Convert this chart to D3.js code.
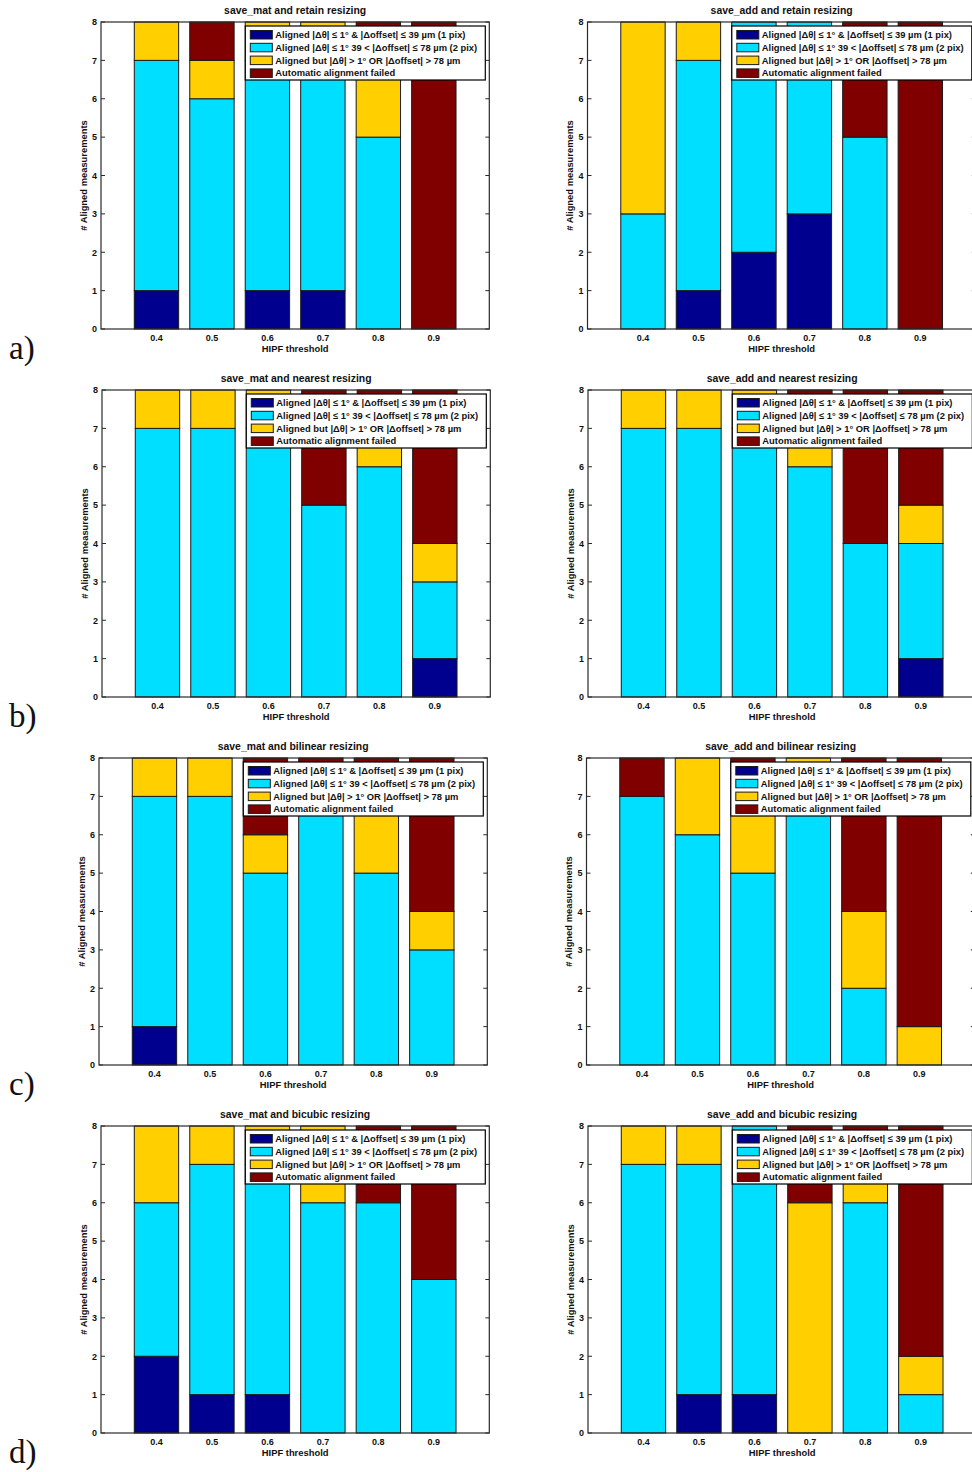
<!DOCTYPE html>
<html>
<head>
<meta charset="utf-8">
<script src="https://cdnjs.cloudflare.com/ajax/libs/d3/7.8.5/d3.min.js"></script>
<style>
  html, body { margin: 0; padding: 0; background: #fff; }
  svg { display: block; }
  .tick-label, .axis-title, .panel-title, .legend-text { font-family: "Liberation Sans", Arial, Helvetica, sans-serif; font-weight: bold; fill: #111; }
  .row-label { font-family: "Liberation Serif", "DejaVu Serif", serif; fill: #111; }
</style>
</head>
<body>
<svg id="chart" width="972" height="1472"></svg>
<script>
// HIPF thresholds on the x axis
const thresholds = ["0.4", "0.5", "0.6", "0.7", "0.8", "0.9"];

// Outcome classes, bottom to top of each stack
const seriesKeys = ["pix1", "pix2", "coarse", "failed"];
const seriesLabels = [
  "Aligned |\u0394\u03b8| \u2264 1\u00b0 & |\u0394offset| \u2264 39 \u00b5m (1 pix)",
  "Aligned |\u0394\u03b8| \u2264 1\u00b0 39 < |\u0394offset| \u2264 78 \u00b5m (2 pix)",
  "Aligned but |\u0394\u03b8| > 1\u00b0 OR |\u0394offset| > 78 \u00b5m",
  "Automatic alignment failed"
];
const seriesColors = ["#00008f", "#00dfff", "#ffcf00", "#800000"];

// Counts per threshold: [1 pix, 2 pix, aligned but off, failed]
const matRetain   = [[1,0,1,1,0,0],[6,6,6,6,5,0],[1,1,1,1,2,0],[0,1,0,0,1,8]];
const addRetain   = [[0,1,2,3,0,0],[3,6,6,5,5,0],[5,1,0,0,0,0],[0,0,0,0,3,8]];
const matNearest  = [[0,0,0,0,0,1],[7,7,7,5,6,2],[1,1,1,0,1,1],[0,0,0,3,1,4]];
const addNearest  = [[0,0,0,0,0,1],[7,7,7,6,4,3],[1,1,1,1,0,1],[0,0,0,1,4,3]];
const matBilinear = [[1,0,0,0,0,0],[6,7,5,7,5,3],[1,1,1,0,2,1],[0,0,2,1,1,4]];
const addBilinear = [[0,0,0,0,0,0],[7,6,5,7,2,0],[0,2,2,1,2,1],[1,0,1,0,4,7]];
const matBicubic  = [[2,1,1,0,0,0],[4,6,6,6,6,4],[2,1,1,2,0,0],[0,0,0,0,2,4]];
const addBicubic  = [[0,1,1,0,0,0],[7,6,7,0,6,1],[1,1,0,6,1,1],[0,0,0,2,1,6]];

const yTicks = [0, 1, 2, 3, 4, 5, 6, 7, 8];
const rowLabels = ["a)", "b)", "c)", "d)"];

// Panel grid: rows of resizing methods, columns of save modes
const panels = [
  { title: "save_mat and retain resizing",   data: matRetain,   row: 0, col: 0 },
  { title: "save_add and retain resizing",   data: addRetain,   row: 0, col: 1 },
  { title: "save_mat and nearest resizing",  data: matNearest,  row: 1, col: 0 },
  { title: "save_add and nearest resizing",  data: addNearest,  row: 1, col: 1 },
  { title: "save_mat and bilinear resizing", data: matBilinear, row: 2, col: 0 },
  { title: "save_add and bilinear resizing", data: addBilinear, row: 2, col: 1 },
  { title: "save_mat and bicubic resizing",  data: matBicubic,  row: 3, col: 0 },
  { title: "save_add and bicubic resizing",  data: addBicubic,  row: 3, col: 1 }
];

const svg = d3.select("#chart");
const colLeft = [101, 587.5];
const rowShift = [[0, 0], [1, 0.5], [-2, -1], [0, 0.5]];
const plotW = 388.3, plotH = 307;
const rowTop = r => 22 + r * 368;

function drawPanel(p) {
  const left = colLeft[p.col] + rowShift[p.row][p.col];
  const top = rowTop(p.row);
  const bottom = top + plotH;
  const x = d3.scaleLinear().domain([0, 7]).range([left, left + plotW]);
  const y = d3.scaleLinear().domain([0, 8]).range([bottom, top]);

  const rows = thresholds.map((t, i) => {
    const o = { t, i };
    seriesKeys.forEach((k, s) => { o[k] = p.data[s][i]; });
    return o;
  });
  const stacked = d3.stack().keys(seriesKeys)(rows);

  const g = svg.append("g");
  g.append("rect").attr("x", left).attr("y", top).attr("width", plotW).attr("height", plotH).attr("fill", "#fff");

  const barW = 0.8;
  stacked.forEach((layer, s) => {
    g.selectAll(null)
      .data(layer.filter(d => d[1] - d[0] > 0))
      .enter().append("rect")
      .attr("x", d => x(d.data.i + 1 - barW / 2))
      .attr("width", x(barW) - x(0))
      .attr("y", d => y(d[1]))
      .attr("height", d => y(d[0]) - y(d[1]))
      .attr("fill", seriesColors[s])
      .attr("stroke", "#1a1a1a")
      .attr("stroke-width", 1);
  });

  // axes box with inward ticks on all sides
  const axisCol = "#2a2a2a";
  g.append("rect").attr("x", left).attr("y", top).attr("width", plotW).attr("height", plotH)
    .attr("fill", "none").attr("stroke", axisCol).attr("stroke-width", 1.2);
  yTicks.forEach(v => {
    g.append("line").attr("x1", left).attr("x2", left + 4).attr("y1", y(v)).attr("y2", y(v)).attr("stroke", axisCol);
    g.append("line").attr("x1", left + plotW - 4).attr("x2", left + plotW).attr("y1", y(v)).attr("y2", y(v)).attr("stroke", axisCol);
    g.append("text").attr("class", "tick-label").attr("x", left - 4).attr("y", y(v) + 3.3)
      .attr("text-anchor", "end").attr("font-size", 9).text(v);
  });
  thresholds.forEach((t, i) => {
    g.append("text").attr("class", "tick-label").attr("x", x(i + 1)).attr("y", bottom + 12)
      .attr("text-anchor", "middle").attr("font-size", 9).text(t);
  });

  g.append("text").attr("class", "axis-title").attr("x", left + plotW / 2).attr("y", bottom + 22.5)
    .attr("text-anchor", "middle").attr("font-size", 9.4).text("HIPF threshold");
  g.append("text").attr("class", "axis-title")
    .attr("transform", `translate(${left - 14.5},${(top + bottom) / 2}) rotate(-90)`)
    .attr("text-anchor", "middle").attr("font-size", 9.4).text("# Aligned measurements");
  g.append("text").attr("class", "panel-title").attr("x", left + plotW / 2).attr("y", top - 8)
    .attr("text-anchor", "middle").attr("font-size", 10.4).text(p.title);

  // legend box in the upper right corner
  const lgW = 240, lgH = 54;
  const lgX = left + plotW - 4 - lgW, lgY = top + 4;
  const lg = g.append("g");
  lg.append("rect").attr("x", lgX).attr("y", lgY).attr("width", lgW).attr("height", lgH)
    .attr("fill", "#fff").attr("stroke", "#000").attr("stroke-width", 1.2);
  seriesLabels.forEach((lab, s) => {
    const cy = lgY + 8.5 + s * 12.8;
    lg.append("rect").attr("x", lgX + 5).attr("y", cy - 4).attr("width", 22).attr("height", 8.5)
      .attr("fill", seriesColors[s]).attr("stroke", "#1a1a1a").attr("stroke-width", 1);
    lg.append("text").attr("class", "legend-text").attr("x", lgX + 30).attr("y", cy + 3.4)
      .attr("font-size", 9.4).text(lab);
  });
}

panels.forEach(drawPanel);

rowLabels.forEach((lab, r) => {
  svg.append("text").attr("class", "row-label").attr("x", 9).attr("y", rowTop(r) + 337)
    .attr("font-size", 33).text(lab);
});
</script>
</body>
</html>
